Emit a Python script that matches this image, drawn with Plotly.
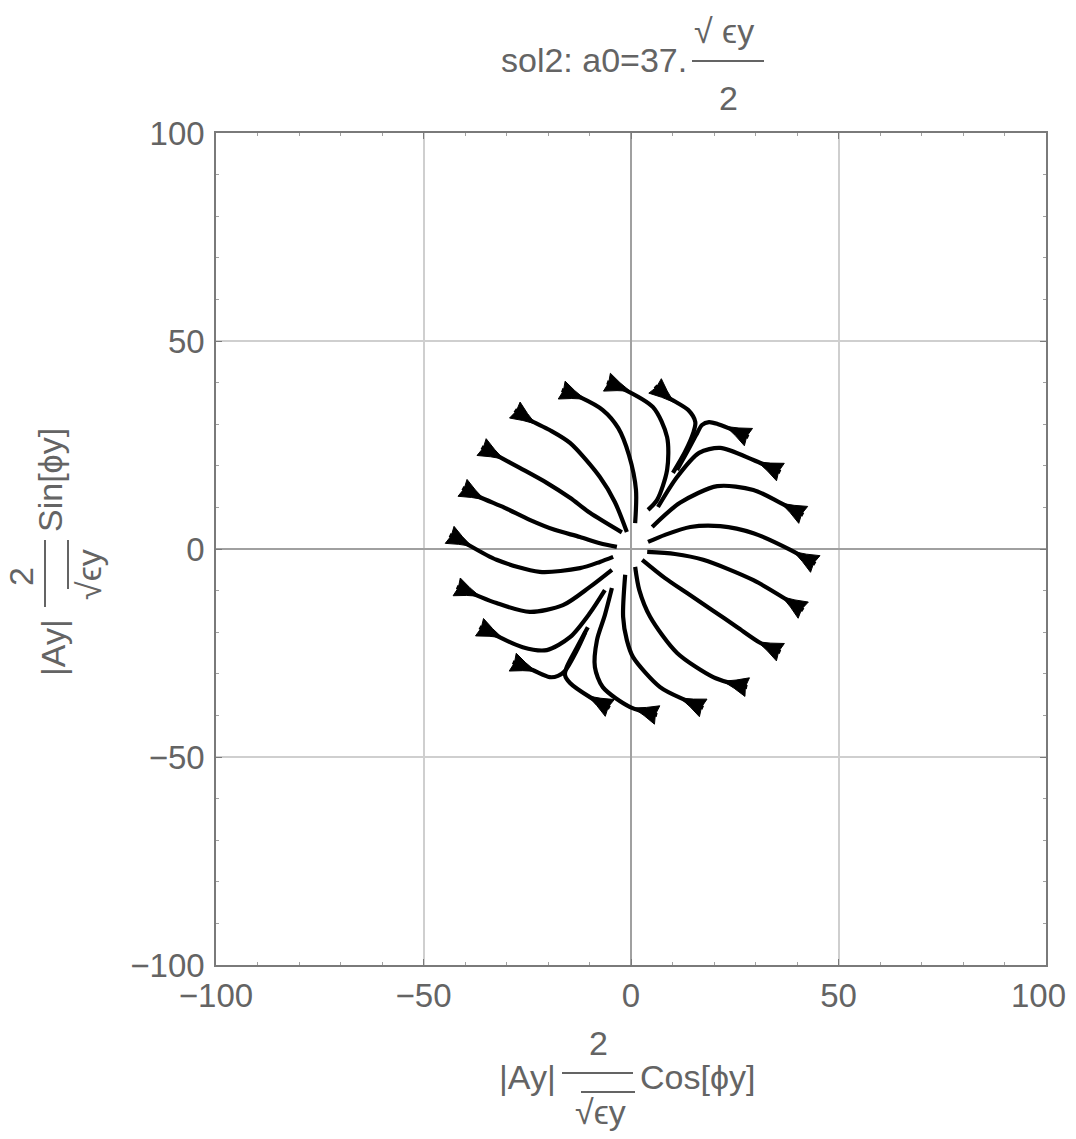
import math
import plotly.graph_objects as go

# ---------------- data ----------------
tick_vals = [-100, -50, 0, 50, 100]
tick_text = ["\u2212100", "\u221250", "0", "50", "100"]

line01_x = [-43.7, -40.8, -32.4, -22.0, -12.3, -7.5, -4.3]
line01_y = [3.4, 1.9, -2.6, -5.5, -4.6, -3.1, -1.9]
line02_x = [-40.6, -36.5, -30.4, -24.4, -18.4, -12.3, -7.5, -3.4]
line02_y = [14.7, 12.5, 9.9, 7.0, 4.6, 2.9, 1.4, 0.5]
line03_x = [-36.0, -31.6, -26.8, -20.3, -14.7, -9.9, -2.2]
line03_y = [24.5, 22.1, 19.5, 15.9, 12.3, 8.7, 4.0]
line04_x = [-28.0, -24.4, -19.6, -14.7, -7.5, -3.9, -1.0]
line04_y = [33.4, 31.0, 28.6, 25.5, 17.3, 11.3, 4.1]
line05_x = [-16.7, -12.3, -6.8, -3.1, -0.5, 1.2, 1.0]
line05_y = [38.2, 36.5, 33.4, 29.1, 22.6, 14.2, 6.2]
line06_x = [-5.8, -2.7, 5.3, 8.7, 8.7, 6.3, 4.1]
line06_y = [40.1, 38.9, 34.1, 26.9, 19.0, 11.8, 9.4]
line07_x = [5.8, 8.9, 13.8, 15.5, 15.0, 13.0, 10.1]
line07_y = [39.2, 36.5, 33.4, 30.5, 27.9, 23.3, 18.3]
line08_x = [28.3, 25.1, 21.0, 18.8, 17.1, 15.7, 13.5, 11.1]
line08_y = [26.9, 28.4, 30.0, 30.5, 29.8, 27.4, 23.3, 19.0]
line09_x = [36.0, 29.5, 21.5, 16.4, 11.1, 6.5]
line09_y = [18.5, 21.4, 24.3, 23.1, 17.3, 10.1]
line10_x = [41.5, 36.0, 29.5, 20.8, 11.8, 5.1]
line10_y = [8.2, 11.1, 14.2, 15.1, 11.1, 5.3]
line11_x = [44.4, 38.4, 29.5, 21.5, 14.3, 8.2, 4.1]
line11_y = [-3.6, -0.2, 3.8, 5.5, 5.3, 3.4, 1.7]
line12_x = [41.5, 37.7, 29.5, 17.4, 10.6, 3.9]
line12_y = [-14.7, -12.3, -7.5, -2.6, -1.2, -0.7]
line13_x = [36.0, 31.2, 25.6, 19.6, 13.5, 8.2, 2.7]
line13_y = [-24.8, -22.6, -18.8, -14.7, -10.6, -7.0, -2.6]
line14_x = [28.0, 23.9, 19.8, 11.1, 4.6, 2.0, 1.0]
line14_y = [-33.2, -32.2, -30.8, -25.0, -16.3, -9.9, -4.3]
line15_x = [17.4, 13.0, 7.0, 0.5, -1.0, -1.9, -1.4]
line15_y = [-38.2, -36.3, -33.2, -26.0, -21.9, -16.3, -6.2]
line16_x = [6.3, -0.2, -6.8, -8.7, -8.2, -6.3, -4.6]
line16_y = [-39.9, -38.0, -33.2, -28.4, -21.9, -15.9, -9.4]
line17_x = [-5.1, -9.9, -14.7, -15.9, -15.5, -13.0, -10.4]
line17_y = [-38.2, -35.6, -32.2, -30.3, -28.4, -23.6, -18.8]
line18_x = [-28.5, -23.7, -19.6, -17.6, -15.9, -13.0, -11.0]
line18_y = [-27.2, -29.1, -30.8, -30.5, -29.3, -24.3, -20.0]
line19_x = [-36.5, -26.1, -20.3, -14.7, -9.9, -6.3]
line19_y = [-18.8, -23.6, -24.3, -21.2, -15.4, -9.9]
line20_x = [-42.0, -32.4, -24.4, -16.4, -9.9, -4.6]
line20_y = [-9.1, -13.0, -15.1, -13.5, -9.1, -5.0]

STREAMS = [
    (line01_x, line01_y), (line02_x, line02_y), (line03_x, line03_y), (line04_x, line04_y),
    (line05_x, line05_y), (line06_x, line06_y), (line07_x, line07_y), (line08_x, line08_y),
    (line09_x, line09_y), (line10_x, line10_y), (line11_x, line11_y), (line12_x, line12_y),
    (line13_x, line13_y), (line14_x, line14_y), (line15_x, line15_y), (line16_x, line16_y),
    (line17_x, line17_y), (line18_x, line18_y), (line19_x, line19_y), (line20_x, line20_y),
]

# ---------------- styling ----------------
OFF = 8                      # default page margin of the html body
W_PX, H_PX = 1060, 1123
L_M, T_M = 216 - OFF, 133 - OFF
R_M = W_PX - (1046 - OFF)
B_M = H_PX - (965 - OFF)
PLOT_W = W_PX - L_M - R_M
PLOT_H = H_PX - T_M - B_M
FONT = "Liberation Sans, Arial, DejaVu Sans, sans-serif"
TXT = "#646464"
FRAME = "#7a7a7a"


def px2paper(px, py):
    """page pixel (as in the reference screenshot) -> paper coordinates"""
    fx, fy = px - OFF, py - OFF
    return (fx - L_M) / PLOT_W, (H_PX - B_M - fy) / PLOT_H


fig = go.Figure()

for xs, ys in STREAMS:
    fig.add_trace(go.Scatter(
        x=xs, y=ys, mode="lines",
        line=dict(color="black", width=4.2, shape="spline", smoothing=0.8),
        hoverinfo="skip", showlegend=False))
    # arrow head at the outer end (narrow end pointing inward along the line)
    x0, y0 = xs[0], ys[0]
    dx, dy = xs[1] - x0, ys[1] - y0
    n = math.hypot(dx, dy)
    dx, dy = dx / n, dy / n
    nx, ny = -dy, dx
    L, Wd, notch = 6.0, 2.3, 0.45
    hx = [x0 + nx * Wd, x0 + dx * notch, x0 - nx * Wd,
          x0 + dx * L * 0.5 - nx * Wd * 0.44, x0 + dx * L,
          x0 + dx * L * 0.5 + nx * Wd * 0.44, x0 + nx * Wd]
    hy = [y0 + ny * Wd, y0 + dy * notch, y0 - ny * Wd,
          y0 + dy * L * 0.5 - ny * Wd * 0.44, y0 + dy * L,
          y0 + dy * L * 0.5 + ny * Wd * 0.44, y0 + ny * Wd]
    fig.add_trace(go.Scatter(
        x=hx, y=hy, mode="lines", fill="toself", fillcolor="black",
        line=dict(color="black", width=1),
        hoverinfo="skip", showlegend=False))

axis_common = dict(
    range=[-100, 100], tickvals=tick_vals,
    showgrid=True, gridcolor="#cfcfcf", gridwidth=2,
    zeroline=True, zerolinecolor="#a0a0a0", zerolinewidth=1.5,
    showline=True, linecolor=FRAME, linewidth=1.5, mirror="allticks",
    ticks="inside", ticklen=6, tickwidth=1, tickcolor=FRAME,
    minor=dict(ticks="inside", ticklen=3, dtick=10, tickcolor="#a0a0a0", showgrid=False),
    tickfont=dict(family=FONT, size=33, color=TXT),
    ticklabeloverflow="allow",
    fixedrange=True,
)

# the right-most x label sits at the page edge: drawn as an annotation below
x_tick_text = tick_text[:-1] + [""]

fig.update_layout(
    width=W_PX, height=H_PX,
    margin=dict(l=L_M, r=R_M, t=T_M, b=B_M, autoexpand=False),
    paper_bgcolor="white", plot_bgcolor="white",
    xaxis=dict(**axis_common, ticktext=x_tick_text, ticklabelstandoff=1),
    yaxis=dict(**axis_common, ticktext=tick_text, ticklabelstandoff=3),
    showlegend=False,
)

annotations = []
shapes = []


def add_text(text, px, py, size=34, xanchor="center", yanchor="middle", angle=0):
    xp, yp = px2paper(px, py)
    annotations.append(dict(
        text=text, x=xp, y=yp, xref="paper", yref="paper", showarrow=False,
        xanchor=xanchor, yanchor=yanchor, textangle=angle, borderpad=0,
        font=dict(family=FONT, size=size, color=TXT)))


def add_seg(px0, py0, px1, py1, w=2):
    x0, y0 = px2paper(px0, py0)
    x1, y1 = px2paper(px1, py1)
    shapes.append(dict(type="line", xref="paper", yref="paper",
                       x0=x0, y0=y0, x1=x1, y1=y1,
                       line=dict(color=TXT, width=w)))


# last x tick label
add_text(tick_text[-1], 1067, 995, size=33, xanchor="right")

# title: sol2: a0=37. (sqrt(eps y))/2
add_text("sol2: a0=37.", 688, 60, xanchor="right")
add_text("\u221a \u03f5y", 724, 31)
add_seg(692, 61, 764, 61)
add_text("2", 728, 98)

# x-axis title: |Ay| 2/sqrt(eps y) Cos[phi y]
add_text("|Ay|", 557, 1077, xanchor="right")
add_seg(562, 1073, 633, 1073)
add_text("2", 598, 1043)
add_text("\u221a\u03f5y", 600, 1112)
add_seg(581, 1092, 635, 1092)
add_text("Cos[\u03d5y]", 639, 1077, xanchor="left")

# y-axis title (rotated)
add_text("|Ay|", 53, 648, angle=-90)
add_seg(45, 607, 45, 540)
add_text("2", 21, 577, angle=-90)
add_text("\u221a\u03f5y", 89, 575, angle=-90)
add_seg(68, 589, 68, 540)
add_text("Sin[\u03d5y]", 50, 480, angle=-90)

fig.update_layout(annotations=annotations, shapes=shapes)

fig.write_html("out.html")
